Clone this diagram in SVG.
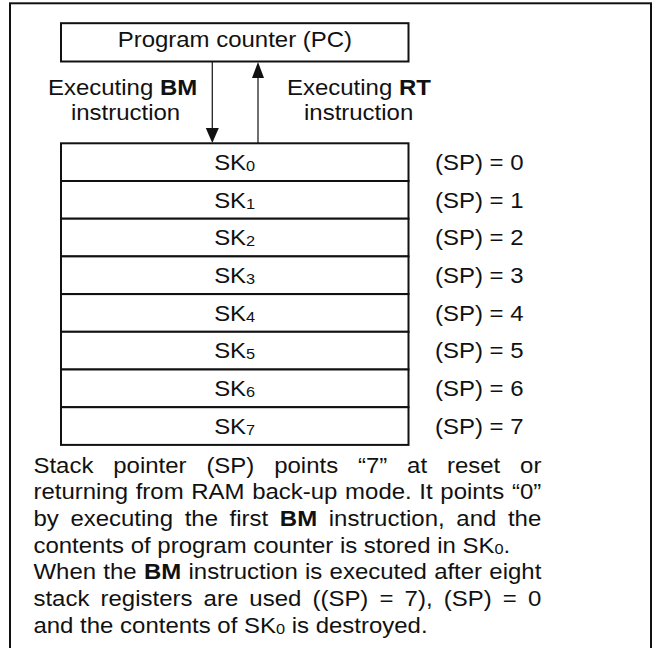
<svg xmlns="http://www.w3.org/2000/svg" width="656" height="648" viewBox="0 0 656 648">
<style>
text{font-family:"Liberation Sans",Arial,sans-serif;font-size:22px;fill:#111}
.b{font-weight:bold}
.box{fill:#fff;stroke:#111;stroke-width:2}
.ln{stroke:#222;stroke-width:1.3;fill:none}
.hd{fill:#111}
</style>
<rect x="0" y="0" width="656" height="648" fill="#fff"/>
<rect id="frame" x="10" y="3.3" width="641" height="680" fill="none" stroke="#111" stroke-width="2"/>

<g id="pc">
<rect class="box" x="61" y="23.2" width="347.5" height="38.3"/>
<text transform="scale(1.09 1)" x="215.5" y="46.7" text-anchor="middle">Program counter (PC)</text>
</g>

<g id="connectors">
<line class="ln" x1="212.3" y1="62" x2="212.3" y2="130"/>
<polygon class="hd" points="205.8,128 218.8,128 212.3,143"/>
<line class="ln" x1="258" y1="143" x2="258" y2="76"/>
<polygon class="hd" points="252,78 264,78 258,62"/>
</g>

<g id="label-bm">
<text transform="scale(1.09 1)" x="44" y="95">Executing <tspan class="b">BM</tspan></text>
<text transform="scale(1.09 1)" x="65.1" y="120">instruction</text>
</g>
<g id="label-rt">
<text transform="scale(1.09 1)" x="263.3" y="95">Executing <tspan class="b">RT</tspan></text>
<text transform="scale(1.09 1)" x="278.9" y="120">instruction</text>
</g>

<g id="sk0"><rect class="box" x="61" y="143.3" width="347.5" height="37.7"/><text transform="scale(1.09 1)" x="215.3" y="170" text-anchor="middle">SK<tspan font-size="15" dy="1">0</tspan></text><text transform="scale(1.09 1)" x="399.1" y="170">(SP) = 0</text></g>
<g id="sk1"><rect class="box" x="61" y="181" width="347.5" height="37.7"/><text transform="scale(1.09 1)" x="215.3" y="207.7" text-anchor="middle">SK<tspan font-size="15" dy="1">1</tspan></text><text transform="scale(1.09 1)" x="399.1" y="207.7">(SP) = 1</text></g>
<g id="sk2"><rect class="box" x="61" y="218.7" width="347.5" height="37.7"/><text transform="scale(1.09 1)" x="215.3" y="245.4" text-anchor="middle">SK<tspan font-size="15" dy="1">2</tspan></text><text transform="scale(1.09 1)" x="399.1" y="245.4">(SP) = 2</text></g>
<g id="sk3"><rect class="box" x="61" y="256.4" width="347.5" height="37.7"/><text transform="scale(1.09 1)" x="215.3" y="283.1" text-anchor="middle">SK<tspan font-size="15" dy="1">3</tspan></text><text transform="scale(1.09 1)" x="399.1" y="283.1">(SP) = 3</text></g>
<g id="sk4"><rect class="box" x="61" y="294.1" width="347.5" height="37.7"/><text transform="scale(1.09 1)" x="215.3" y="320.8" text-anchor="middle">SK<tspan font-size="15" dy="1">4</tspan></text><text transform="scale(1.09 1)" x="399.1" y="320.8">(SP) = 4</text></g>
<g id="sk5"><rect class="box" x="61" y="331.8" width="347.5" height="37.7"/><text transform="scale(1.09 1)" x="215.3" y="358.5" text-anchor="middle">SK<tspan font-size="15" dy="1">5</tspan></text><text transform="scale(1.09 1)" x="399.1" y="358.5">(SP) = 5</text></g>
<g id="sk6"><rect class="box" x="61" y="369.5" width="347.5" height="37.7"/><text transform="scale(1.09 1)" x="215.3" y="396.2" text-anchor="middle">SK<tspan font-size="15" dy="1">6</tspan></text><text transform="scale(1.09 1)" x="399.1" y="396.2">(SP) = 6</text></g>
<g id="sk7"><rect class="box" x="61" y="407.2" width="347.5" height="37.7"/><text transform="scale(1.09 1)" x="215.3" y="433.9" text-anchor="middle">SK<tspan font-size="15" dy="1">7</tspan></text><text transform="scale(1.09 1)" x="399.1" y="433.9">(SP) = 7</text></g>

<g id="note">
<text transform="scale(1.09 1)" x="30.7" y="472.7" word-spacing="12.1">Stack pointer (SP) points “7” at reset or</text>
<text transform="scale(1.09 1)" x="30.7" y="499.3" word-spacing="0.9">returning from RAM back-up mode. It points “0”</text>
<text transform="scale(1.09 1)" x="30.7" y="526" word-spacing="4.57">by executing the first <tspan class="b">BM</tspan> instruction, and the</text>
<text transform="scale(1.09 1)" x="30.7" y="552.7">contents of program counter is stored in SK<tspan font-size="15" dy="1">0</tspan><tspan dy="-1">.</tspan></text>
<text transform="scale(1.09 1)" x="30.7" y="579.3" word-spacing="0.56">When the <tspan class="b">BM</tspan> instruction is executed after eight</text>
<text transform="scale(1.09 1)" x="30.7" y="606" word-spacing="4.1">stack registers are used ((SP) = 7), (SP) = 0</text>
<text transform="scale(1.09 1)" x="30.7" y="632.7">and the contents of SK<tspan font-size="15" dy="1">0</tspan><tspan dy="-1"> is destroyed.</tspan></text>
</g>
</svg>
